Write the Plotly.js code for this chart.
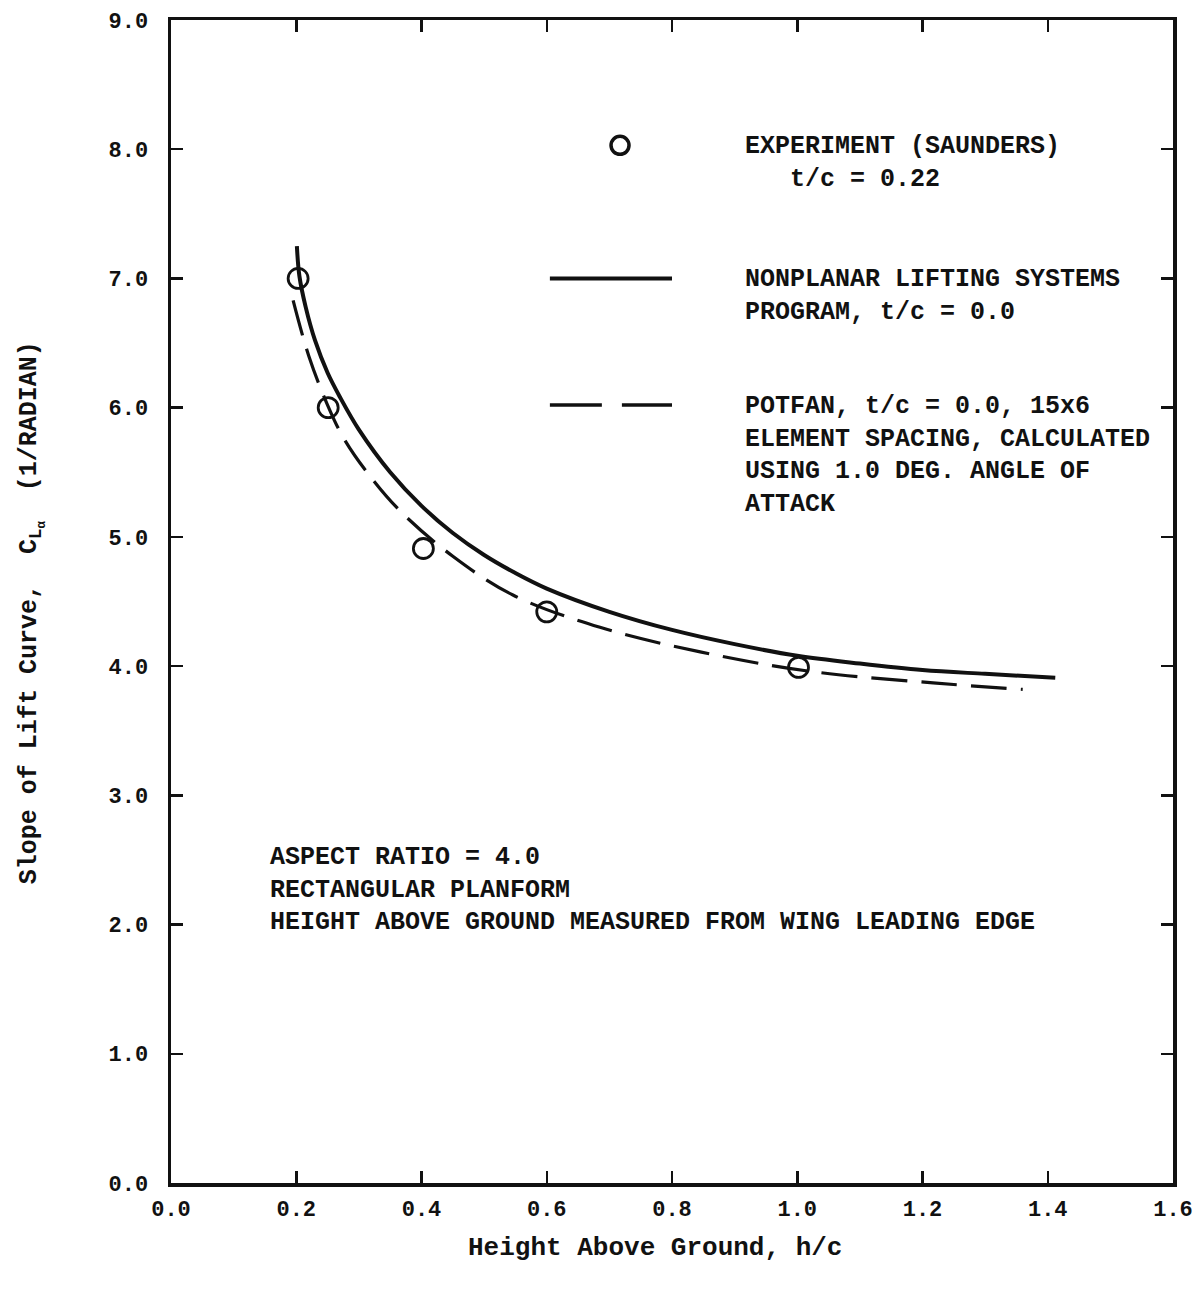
<!DOCTYPE html>
<html>
<head>
<meta charset="utf-8">
<script src="https://cdn.plot.ly/plotly-3.0.1.min.js"></script>
<style>
  html, body { margin: 0; padding: 0; background: #fff; }
  #chart { width: 1198px; height: 1290px; }
</style>
</head>
<body>
<div id="chart"></div>
<script>
// Experiment (Saunders), t/c = 0.22
const hcExp  = [0.203, 0.251, 0.403, 0.600, 1.002];
const claExp = [7.00, 6.00, 4.91, 4.42, 3.99];

// Nonplanar lifting systems program, t/c = 0.0
const hcNlsp  = [0.201, 0.205, 0.215, 0.230, 0.250, 0.270, 0.300, 0.350, 0.400, 0.450, 0.500, 0.550, 0.600, 0.700, 0.800, 0.900, 1.000, 1.100, 1.200, 1.300, 1.412];
const claNlsp = [7.25, 7.02, 6.78, 6.52, 6.27, 6.08, 5.83, 5.50, 5.24, 5.03, 4.86, 4.72, 4.60, 4.42, 4.28, 4.17, 4.08, 4.02, 3.97, 3.94, 3.91];

// POTFAN, t/c = 0.0, 15x6 element spacing, 1.0 deg angle of attack
const hcPot  = [0.195, 0.220, 0.250, 0.275, 0.313, 0.366, 0.450, 0.546, 0.685, 0.845, 1.020, 1.217, 1.360];
const claPot = [6.83, 6.40, 6.02, 5.77, 5.50, 5.20, 4.85, 4.55, 4.30, 4.11, 3.96, 3.87, 3.82];

const xTickVals = [0, 0.2, 0.4, 0.6, 0.8, 1.0, 1.2, 1.4, 1.6];
const xTickText = ['0.0','0.2','0.4','0.6','0.8','1.0','1.2','1.4','1.6'];
const yTickVals = [0,1,2,3,4,5,6,7,8,9];
const yTickText = ['0.0','1.0','2.0','3.0','4.0','5.0','6.0','7.0','8.0','9.0'];

const FONT = '"Liberation Mono", "DejaVu Sans Mono", monospace';
const INK = '#111';

const traces = [
  { x: hcNlsp, y: claNlsp, mode: 'lines', line: { color: INK, width: 4, shape: 'spline', smoothing: 1 }, hoverinfo: 'skip' },
  { x: hcPot, y: claPot, mode: 'lines', line: { color: INK, width: 3.2, dash: '36px,14px', shape: 'spline', smoothing: 1 }, hoverinfo: 'skip' },
  { x: hcExp, y: claExp, mode: 'markers', marker: { symbol: 'circle-open', size: 20, color: INK, line: { color: INK, width: 2.8 } }, hoverinfo: 'skip' }
];

const axisCommon = {
  showline: true, linecolor: INK, linewidth: 3.5, mirror: 'ticks',
  ticks: 'inside', ticklen: 12, tickwidth: 2.5, tickcolor: INK,
  showgrid: false, zeroline: false, fixedrange: true,
  tickfont: { family: FONT, size: 22, color: INK, weight: 'bold' }
};

const legendText = { family: FONT, size: 25, color: INK, weight: 'bold' };

const layout = {
  width: 1198, height: 1290,
  margin: { l: 171, r: 25, t: 20, b: 107 },
  paper_bgcolor: '#fff', plot_bgcolor: '#fff',
  showlegend: false,
  xaxis: Object.assign({}, axisCommon, { range: [0, 1.6], tickvals: xTickVals, ticktext: xTickText, ticklabelstandoff: 3 }),
  yaxis: Object.assign({}, axisCommon, { range: [0, 9], tickvals: yTickVals, ticktext: yTickText, ticklabelstandoff: 15 }),
  shapes: [
    { type: 'circle', xref: 'x', yref: 'y', xsizemode: 'pixel', ysizemode: 'pixel', xanchor: 0.717, yanchor: 8.03,
      x0: -9, x1: 9, y0: -9, y1: 9, line: { color: INK, width: 3.5 } },
    { type: 'line', xref: 'x', yref: 'y', x0: 0.605, x1: 0.80, y0: 7.0, y1: 7.0, line: { color: INK, width: 4 } },
    { type: 'line', xref: 'x', yref: 'y', x0: 0.605, x1: 0.688, y0: 6.02, y1: 6.02, line: { color: INK, width: 3.5 } },
    { type: 'line', xref: 'x', yref: 'y', x0: 0.720, x1: 0.80, y0: 6.02, y1: 6.02, line: { color: INK, width: 3.5 } }
  ],
  annotations: [
    { xref: 'x', yref: 'y', x: 0.914, y: 8.15, xanchor: 'left', yanchor: 'top', align: 'left', showarrow: false,
      text: 'EXPERIMENT (SAUNDERS)<br>&nbsp;&nbsp;&nbsp;t/c = 0.22', font: legendText },
    { xref: 'x', yref: 'y', x: 0.914, y: 7.12, xanchor: 'left', yanchor: 'top', align: 'left', showarrow: false,
      text: 'NONPLANAR LIFTING SYSTEMS<br>PROGRAM, t/c = 0.0', font: legendText },
    { xref: 'x', yref: 'y', x: 0.914, y: 6.14, xanchor: 'left', yanchor: 'top', align: 'left', showarrow: false,
      text: 'POTFAN, t/c = 0.0, 15x6<br>ELEMENT SPACING, CALCULATED<br>USING 1.0 DEG. ANGLE OF<br>ATTACK', font: legendText },
    { xref: 'x', yref: 'y', x: 0.155, y: 2.65, xanchor: 'left', yanchor: 'top', align: 'left', showarrow: false,
      text: 'ASPECT RATIO = 4.0<br>RECTANGULAR PLANFORM<br>HEIGHT ABOVE GROUND MEASURED FROM WING LEADING EDGE', font: legendText },
    { xref: 'paper', yref: 'paper', x: 0.483, y: -0.0559, xanchor: 'center', yanchor: 'middle', showarrow: false,
      text: 'Height Above Ground, h/c', font: { family: FONT, size: 26, color: INK, weight: 'bold' } },
    { xref: 'paper', yref: 'paper', x: -0.1387, y: 0.490, xanchor: 'center', yanchor: 'middle', showarrow: false, textangle: -90,
      text: 'Slope of Lift Curve,  C<sub>L<sub>α</sub></sub>  (1/RADIAN)', font: { family: FONT, size: 25, color: INK, weight: 'bold' } }
  ]
};

Plotly.newPlot('chart', traces, layout, { displayModeBar: false, staticPlot: true });
</script>
</body>
</html>
